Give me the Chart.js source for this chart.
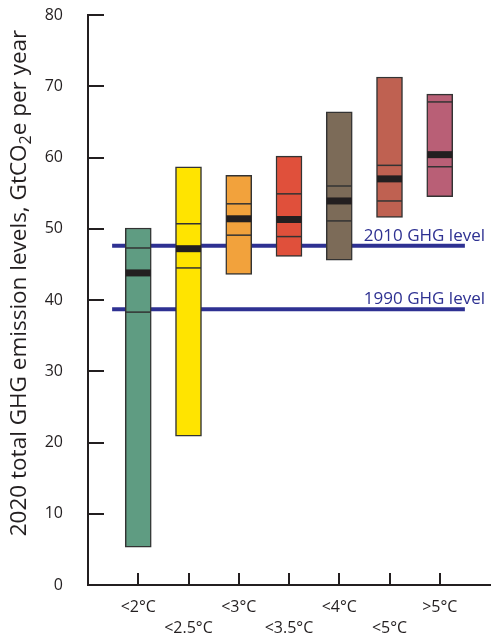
<!DOCTYPE html>
<html lang="en">
<head>
  <meta charset="UTF-8">
  <title>2020 GHG emission levels</title>
  <script src="https://cdn.jsdelivr.net/npm/chart.js"></script>
  <style>
    body {
      margin: 0;
      padding: 0;
      background-color: white;
    }
    #wrap {
      width: 494px;
      height: 636px;
    }
  </style>
</head>
<body>
  <div id="wrap"><canvas id="chart" width="494" height="636"></canvas></div>

  <script>
    // warming categories, one box each
    const categories = ['<2°C', '<2.5°C', '<3°C', '<3.5°C', '<4°C', '<5°C', '>5°C'];
    const rangeLow  = [5.3, 20.9, 43.6, 46.1, 45.6, 51.6, 54.5];
    const rangeHigh = [50.1, 58.7, 57.5, 60.2, 66.4, 71.3, 68.9];
    const lowerLine = [38.3, 44.5, 49.1, 48.9, 51.1, 53.9, 58.7];
    const upperLine = [47.3, 50.7, 53.5, 54.9, 56.0, 58.9, 67.8];
    const medians   = [43.8, 47.2, 51.4, 51.3, 53.9, 57.0, 60.4];
    const boxColors = ['#5f9c82', '#ffe400', '#f2a23c', '#e0503b', '#7c6b58', '#bf6151', '#b95f76'];

    // reference levels
    const levelNames  = ['2010 GHG level', '1990 GHG level'];
    const levelValues = [47.6, 38.7];
    const levelStart = 0.48, levelEnd = 7.5;

    const yTicks = [0, 10, 20, 30, 40, 50, 60, 70, 80];

    const FONT = "'Open Sans', sans-serif";
    const INK = '#231f20';
    const NAVY = '#2e3192';

    const xs = categories.map((c, i) => i + 1);

    // ticks drawn inward + level labels + y title with subscript
    const extras = {
      id: 'extras',
      afterDatasetsDraw(chart) {
        const ctx = chart.ctx;
        const x = chart.scales.x, y = chart.scales.y;
        const area = chart.chartArea;
        ctx.save();
        ctx.strokeStyle = INK;
        ctx.lineWidth = 2;
        ctx.beginPath();
        yTicks.forEach(v => {
          if (v === 0) return;
          const py = Math.round(y.getPixelForValue(v));
          ctx.moveTo(area.left, py);
          ctx.lineTo(area.left + 16, py);
        });
        xs.forEach(v => {
          const px = Math.round(x.getPixelForValue(v));
          ctx.moveTo(px, area.bottom);
          ctx.lineTo(px, area.bottom - 12);
        });
        ctx.stroke();

        // level labels
        ctx.fillStyle = NAVY;
        ctx.font = "17px " + FONT;
        ctx.textAlign = 'right';
        ctx.textBaseline = 'alphabetic';
        levelNames.forEach((name, i) => {
          ctx.fillText(name, 485, y.getPixelForValue(levelValues[i]) - 5);
        });
        ctx.restore();
      },
      afterDraw(chart) {
        const ctx = chart.ctx;
        const part1 = '2020 total GHG emission levels, GtCO';
        const sub = '2';
        const part2 = 'e per year';
        ctx.save();
        ctx.translate(26, 283);
        ctx.rotate(-Math.PI / 2);
        ctx.fillStyle = INK;
        ctx.textBaseline = 'alphabetic';
        ctx.textAlign = 'left';
        ctx.font = "22.5px " + FONT;
        const w1 = ctx.measureText(part1).width;
        const w3 = ctx.measureText(part2).width;
        ctx.font = "16px " + FONT;
        const w2 = ctx.measureText(sub).width;
        let start = -(w1 + w2 + w3) / 2;
        ctx.font = "22.5px " + FONT;
        ctx.fillText(part1, start, 0);
        ctx.font = "16px " + FONT;
        ctx.fillText(sub, start + w1, 5);
        ctx.font = "22.5px " + FONT;
        ctx.fillText(part2, start + w1 + w2, 0);
        ctx.restore();
      }
    };

    const ctx = document.getElementById('chart').getContext('2d');
    new Chart(ctx, {
      type: 'bar',
      data: {
        datasets: [
          {
            label: 'range',
            data: xs.map((x, i) => ({ x: x, y: [rangeLow[i], rangeHigh[i]] })),
            backgroundColor: boxColors,
            borderColor: '#333333',
            borderWidth: 1.5,
            borderSkipped: false,
            barThickness: 26,
            order: 5
          },
          {
            type: 'scatter',
            label: 'lower',
            data: xs.map((x, i) => ({ x: x, y: lowerLine[i] })),
            pointStyle: 'line',
            radius: 12.5,
            borderColor: '#333333',
            borderWidth: 1.5,
            order: 2
          },
          {
            type: 'scatter',
            label: 'upper',
            data: xs.map((x, i) => ({ x: x, y: upperLine[i] })),
            pointStyle: 'line',
            radius: 12.5,
            borderColor: '#333333',
            borderWidth: 1.5,
            order: 2
          },
          {
            type: 'scatter',
            label: 'median',
            data: xs.map((x, i) => ({ x: x, y: medians[i] })),
            pointStyle: 'line',
            radius: 12.5,
            borderColor: INK,
            borderWidth: 7,
            order: 1
          },
          ...levelValues.map((v, i) => ({
            type: 'line',
            label: levelNames[i],
            data: [{ x: levelStart, y: v }, { x: levelEnd, y: v }],
            borderColor: NAVY,
            borderWidth: 4,
            pointRadius: 0,
            order: 10
          }))
        ]
      },
      options: {
        responsive: false,
        animation: false,
        events: [],
        layout: { autoPadding: false, padding: { top: 15, right: 4, left: 0, bottom: 0 } },
        plugins: {
          legend: { display: false },
          tooltip: { enabled: false }
        },
        scales: {
          x: {
            type: 'linear',
            min: 0,
            max: 8,
            offset: false,
            grid: { display: false, drawTicks: false },
            border: { display: true, color: INK, width: 2 },
            afterBuildTicks: (scale) => {
              scale.ticks = xs.map(v => ({ value: v }));
            },
            ticks: {
              autoSkip: false,
              maxRotation: 0,
              padding: 12,
              color: INK,
              font: { family: FONT, size: 16, lineHeight: 1.3 },
              callback: (value) => {
                const i = value - 1;
                if (i < 0 || i >= categories.length) return '';
                return i % 2 === 0 ? categories[i] : ['', categories[i]];
              }
            },
            afterFit: (scale) => { scale.height = 51; }
          },
          y: {
            min: 0,
            max: 80,
            grid: { display: false, drawTicks: false },
            border: { display: true, color: INK, width: 2 },
            afterBuildTicks: (scale) => {
              scale.ticks = yTicks.map(v => ({ value: v }));
            },
            ticks: {
              padding: 25,
              color: INK,
              font: { family: FONT, size: 16 }
            },
            afterFit: (scale) => {
              scale.width = 88;
              scale.paddingTop = 10;
              scale.paddingBottom = 10;
            }
          }
        }
      },
      plugins: [extras]
    });
  </script>
</body>
</html>
